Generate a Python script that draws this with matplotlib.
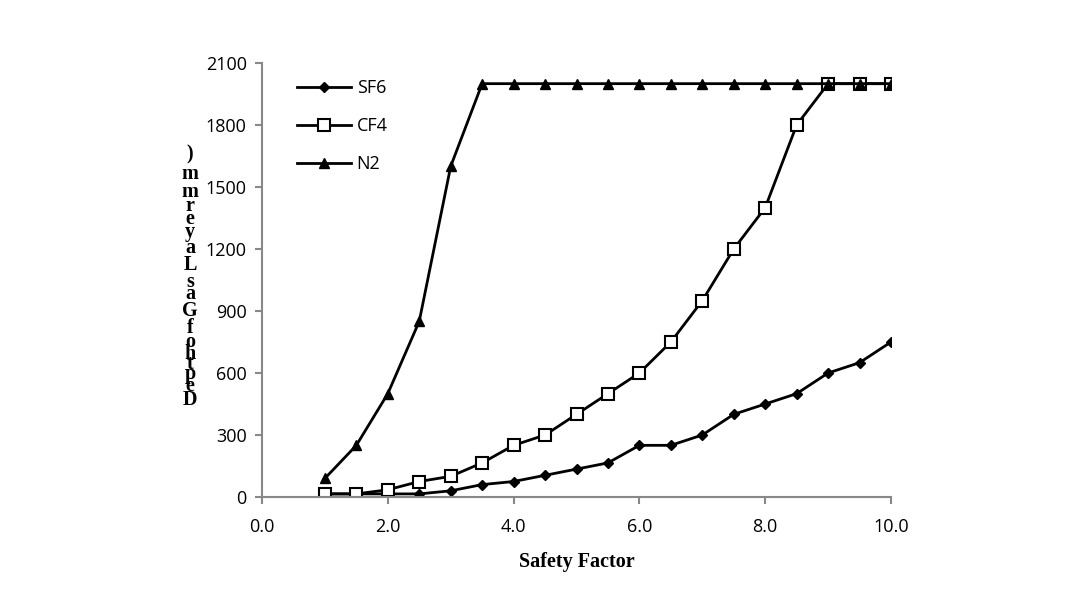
import matplotlib
matplotlib.use('Agg')
import matplotlib.pyplot as plt

safety = [1.0, 1.5, 2.0, 2.5, 3.0, 3.5, 4.0, 4.5, 5.0, 5.5,
          6.0, 6.5, 7.0, 7.5, 8.0, 8.5, 9.0, 9.5, 10.0]
sf6 = [15, 15, 15, 15, 30, 60, 75, 105, 135, 165,
       250, 250, 300, 400, 450, 500, 600, 650, 750]
cf4 = [15, 15, 35, 75, 100, 165, 250, 300, 400, 500,
       600, 750, 950, 1200, 1400, 1800, 2000, 2000, 2000]
n2 = [90, 250, 500, 850, 1600, 2000, 2000, 2000, 2000, 2000,
      2000, 2000, 2000, 2000, 2000, 2000, 2000, 2000, 2000]

# garbled stacked y label, bottom to top, as in the source image
ylabel_chars = list("DepthofGasLayermm)")
ylabel_ys = [400, 386, 374, 364, 354, 342, 328, 311, 294, 282,
             265, 248, 232, 219, 206, 192, 174, 154]

plt.rcParams['font.family'] = ['Open Sans', 'DejaVu Sans']

fig = plt.figure(figsize=(10.87, 5.98), dpi=100)
W, H = 1087, 598
ax = fig.add_axes([262 / W, 1 - 497 / H, (891 - 262) / W, (497 - 63) / H])

ax.plot(safety, sf6, color='black', lw=2, marker='D', ms=5.5, label='SF6')
ax.plot(safety, cf4, color='black', lw=2, marker='s', ms=9,
        mfc='white', mec='black', mew=1.5, label='CF4')
ax.plot(safety, n2, color='black', lw=2, marker='^', ms=7.5, label='N2')

ax.set_xlim(0, 10)
ax.set_ylim(0, 2100)
ax.set_xticks([0, 2, 4, 6, 8, 10])
ax.set_xticklabels(['0.0', '2.0', '4.0', '6.0', '8.0', '10.0'])
ax.set_yticks(range(0, 2101, 300))

for s in ['top', 'right']:
    ax.spines[s].set_visible(False)
for s in ['left', 'bottom']:
    ax.spines[s].set_color('#888888')
    ax.spines[s].set_linewidth(1.5)
ax.tick_params(colors='#888888', labelcolor='black', labelsize=13,
               length=5, width=1.5)
ax.tick_params(axis='x', pad=10)
ax.tick_params(axis='y', pad=6)

ax.set_xlabel('Safety Factor', family='Liberation Serif', fontweight='bold',
              fontsize=14.5, labelpad=12)

for ch, y in zip(ylabel_chars, ylabel_ys):
    fig.text(190 / W, 1 - y / H, ch, family='Liberation Serif',
             fontweight='bold', fontsize=14.5, ha='center', va='center')

ax.legend(loc='upper left', bbox_to_anchor=(0.03, 1.0), frameon=False,
          fontsize=13, labelspacing=1.1, handlelength=3, handletextpad=0.3)

fig.savefig('out.png', dpi=100)
